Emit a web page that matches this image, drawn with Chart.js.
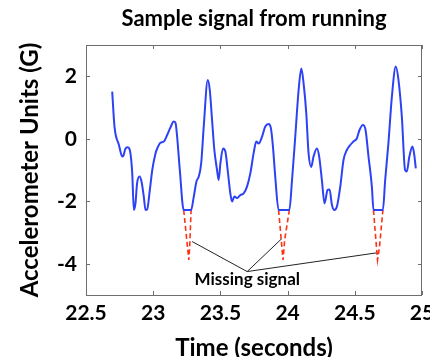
<!DOCTYPE html>
<html><head><meta charset="utf-8">
<script src="https://cdn.jsdelivr.net/npm/chart.js@4.4.0/dist/chart.umd.min.js"></script>
<style>html,body{margin:0;padding:0;background:#fff}#wrap{width:430px;height:357px}</style>
</head><body><div id="wrap"><canvas id="c" width="430" height="357"></canvas></div>
<script>
const titleText = "Sample signal from running";
const xTitle = "Time (seconds)";
const yTitle = "Accelerometer Units (G)";
const xTicks = [22.5, 23, 23.5, 24, 24.5, 25];
const xTickLabels = ["22.5", "23", "23.5", "24", "24.5", "25"];
const yTicks = [-4, -2, 0, 2];
const yTickLabels = ["-4", "-2", "0", "2"];

const sigX = [22.695,22.712,22.745,22.77,22.78,22.794,22.81,22.826,22.844,22.856,22.868,22.88,22.898,22.913,22.93,22.943,22.955,22.975,22.993,23.017,23.03,23.054,23.079,23.104,23.129,23.153,23.166,23.178,23.198,23.227,23.282,23.302,23.322,23.339,23.357,23.376,23.406,23.421,23.438,23.455,23.475,23.487,23.5,23.52,23.537,23.554,23.574,23.587,23.604,23.624,23.649,23.673,23.698,23.723,23.747,23.767,23.785,23.81,23.834,23.859,23.876,23.891,23.908,23.933,24.013,24.033,24.057,24.082,24.102,24.119,24.139,24.156,24.176,24.193,24.218,24.235,24.255,24.275,24.297,24.312,24.33,24.347,24.367,24.392,24.416,24.441,24.466,24.49,24.515,24.535,24.56,24.58,24.602,24.627,24.639,24.709,24.726,24.75,24.776,24.805,24.825,24.85,24.874,24.887,24.906,24.929,24.941,24.954];
const sigY = [1.51,0.39,-0.2,-0.57,-0.52,-0.31,-0.27,-0.36,-1.1,-2.28,-2.07,-1.43,-1.21,-1.37,-1.85,-2.28,-2.26,-1.64,-1.0,-0.47,-0.31,-0.13,-0.09,0.12,0.37,0.55,0.51,0.07,-1.0,-2.28,-2.28,-1.85,-1.37,-1.21,-0.79,0.39,1.88,1.56,0.6,-0.36,-1.0,-1.32,-0.79,-0.31,-0.41,-1.0,-1.75,-2.01,-1.85,-1.9,-1.8,-1.75,-1.53,-1.1,-0.47,-0.09,-0.15,0.07,0.39,0.47,0.33,-0.25,-1.21,-2.28,-2.28,-1.32,0.07,1.56,2.25,1.77,0.81,-0.47,-0.9,-0.57,-0.31,-0.57,-1.32,-2.07,-1.64,-1.62,-2.12,-2.28,-2.17,-1.53,-0.68,-0.36,-0.2,-0.09,0.01,0.28,0.44,0.28,-0.57,-1.53,-2.28,-2.28,-1.32,-0.15,1.35,2.31,1.88,0.71,-1.0,-1.05,-0.57,-0.25,-0.47,-0.95];

const missX = [23.227,23.265,23.272,23.282,null,23.933,23.966,23.978,24.013,null,24.639,24.669,24.684,24.709];
const missY = [-2.28,-3.88,-3.4,-2.28,null,-2.28,-3.88,-3.24,-2.28,null,-2.28,-3.88,-3.45,-2.28];

const noteLabel = "Missing signal";
const noteX = 23.7, noteY = -4.52;
const ptrX = [23.699,23.29,null,23.699,23.958,null,23.699,24.664];
const ptrY = [-4.25,-3.29,null,-4.25,-3.19,null,-4.25,-3.65];

const toPts = (xs, ys) => xs.map((x, i) => (x === null ? {x: null, y: null} : {x, y: ys[i]}));

const FONT = "Lato, sans-serif";

const boxPlugin = {
  id: 'box',
  afterDraw(chart) {
    const ctx = chart.ctx;
    const sx = chart.scales.x, sy = chart.scales.y;
    const l = Math.round(sx.left), r = Math.round(sx.right), t = Math.round(sy.top), b = Math.round(sy.bottom);
    ctx.save();
    ctx.setLineDash([]);
    ctx.lineWidth = 1;
    ctx.strokeStyle = '#6e6e6e';
    ctx.strokeRect(l + 0.5, t + 0.5, r - l - 1, b - t);
    ctx.beginPath();
    const L = 4;
    xTicks.forEach(v => {
      const px = Math.round(sx.getPixelForValue(v)) + 0.5;
      ctx.moveTo(px, b); ctx.lineTo(px, b - L);
      ctx.moveTo(px, t); ctx.lineTo(px, t + L);
    });
    yTicks.forEach(v => {
      const py = Math.round(sy.getPixelForValue(v)) + 0.5;
      ctx.moveTo(l, py); ctx.lineTo(l + L, py);
      ctx.moveTo(r, py); ctx.lineTo(r - L, py);
    });
    ctx.stroke();
    ctx.fillStyle = '#000';
    ctx.textAlign = 'center';
    ctx.textBaseline = 'middle';
    ctx.font = "bold 17px " + FONT;
    ctx.fillText(noteLabel, sx.getPixelForValue(noteX), sy.getPixelForValue(noteY));
    ctx.font = "bold 22px " + FONT;
    ctx.fillText(titleText, (l + r) / 2, 19);
    ctx.restore();
  }
};

new Chart(document.getElementById('c'), {
  type: 'scatter',
  data: {
    datasets: [
      {data: toPts(sigX, sigY), showLine: true, borderColor: 'rgb(45,65,245)', borderWidth: 2, pointRadius: 0, cubicInterpolationMode: 'monotone', fill: false},
      {data: toPts(missX, missY), showLine: true, borderColor: 'rgb(255,50,20)', borderWidth: 1.6, borderDash: [5, 3], pointRadius: 0, spanGaps: false, fill: false},
      {data: toPts(ptrX, ptrY), showLine: true, borderColor: '#222', borderWidth: 1, pointRadius: 0, spanGaps: false, fill: false}
    ]
  },
  options: {
    responsive: false,
    animation: false,
    layout: {padding: {left: 0, right: 8, top: 45, bottom: 0}},
    plugins: {legend: {display: false}, tooltip: {enabled: false}, title: {display: false}},
    scales: {
      x: {
        type: 'linear', min: 22.5, max: 25,
        afterBuildTicks: s => { s.ticks = xTicks.map(v => ({value: v})); },
        afterFit: s => { s.height = 62; s.paddingLeft = 0; s.paddingRight = 0; },
        grid: {display: false, drawTicks: false},
        border: {display: false},
        ticks: {color: '#000', font: {family: FONT, size: 21, weight: 'bold'}, padding: 6, maxRotation: 0, autoSkip: false,
          callback: (v) => { const i = xTicks.indexOf(v); return i >= 0 ? xTickLabels[i] : ''; }},
        title: {display: true, text: xTitle, color: '#000', font: {family: FONT, size: 24, weight: 'bold', lineHeight: 0.72}, padding: {top: 0, bottom: 0}}
      },
      y: {
        type: 'linear', min: -5, max: 3,
        afterBuildTicks: s => { s.ticks = yTicks.map(v => ({value: v})); },
        afterFit: s => { s.width = 86; },
        grid: {display: false, drawTicks: false},
        border: {display: false},
        ticks: {color: '#000', font: {family: FONT, size: 21, weight: 'bold'}, padding: 9,
          callback: (v) => { const i = yTicks.indexOf(v); return i >= 0 ? yTickLabels[i] : ''; }},
        title: {display: true, text: yTitle, color: '#000', font: {family: FONT, size: 24, weight: 'bold', lineHeight: 1.2}, padding: {top: 16, bottom: 0}}
      }
    }
  },
  plugins: [boxPlugin]
});
</script></body></html>
